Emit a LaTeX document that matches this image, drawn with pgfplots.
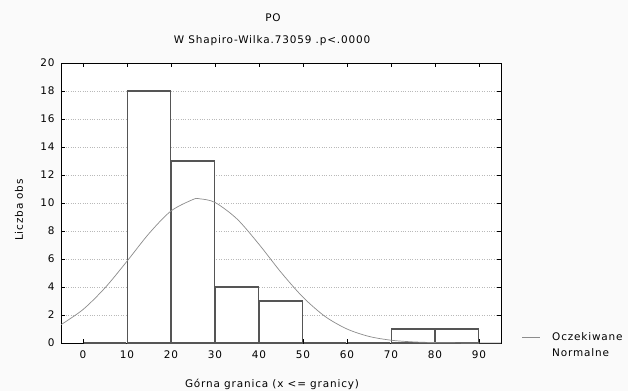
\documentclass[border=0pt]{standalone}
\usepackage{pgfplots}
\pgfplotsset{compat=1.18}
\usepackage{fontspec}
\setmainfont[LetterSpace=8]{DejaVu Sans}
\definecolor{bg}{RGB}{250,250,250}
\definecolor{baredge}{RGB}{85,85,85}
\definecolor{curve}{RGB}{140,140,140}
\begin{document}
\begin{tikzpicture}[x=1bp,y=1bp,font=\fontsize{10.5}{12}\selectfont]
\fill[bg] (0,0) rectangle (628,391);
\useasboundingbox (0,0) rectangle (628,391);
\begin{axis}[
  at={(61bp,48bp)}, anchor=south west,
  width=440bp, height=280bp, scale only axis,
  xmin=-5, xmax=95, ymin=0, ymax=20,
  xtick={0,10,...,90}, ytick={0,2,...,20},
  axis background/.style={fill=white},
  ymajorgrids,
  grid style={dotted, gray!55, line width=0.6pt},
  tick style={black, line width=0.8pt},
  major tick length=4bp,
  axis line style={black, line width=1pt},
  tick label style={font=\fontsize{10.5}{12}\selectfont},
  yticklabel style={xshift=-3bp},
  xticklabel style={yshift=-4bp},
  /pgf/number format/assume math mode=true,
]
\addplot[ybar, bar width=9.6, bar shift=0pt, fill=white, draw=baredge, line width=1.1pt]
  coordinates {(5,0) (15,18) (25,13) (35,4) (45,3) (55,0) (65,0) (75,1) (85,1)};
\addplot[curve, line width=0.7pt, smooth]
  coordinates {(-5,1.31) (0,2.39) (5,3.94) (10,5.84) (15,7.82) (20,9.43) (25,10.25) (26.5,10.3) (30,10.04) (35,8.86) (40,7.05) (45,5.05) (50,3.27) (55,1.90) (60,1.00) (65,0.47) (70,0.20) (75,0.08) (80,0.03) (85,0.01) (90,0.0) (95,0.0)};
\end{axis}
\node at (273,391-18) {PO};
\node at (272,391-41) {W Shapiro-Wilka.73059 .p<.0000};
\node at (272,391-384) {Górna granica (x <= granicy)};
\node[rotate=90] at (19,391-210) {Liczba obs};
\draw[curve, line width=0.7pt] (522,391-337) -- (540,391-337);
\node[anchor=west, inner sep=0pt] at (552,391-337) {Oczekiwane};
\node[anchor=west, inner sep=0pt] at (552,391-353) {Normalne};
\end{tikzpicture}
\end{document}
